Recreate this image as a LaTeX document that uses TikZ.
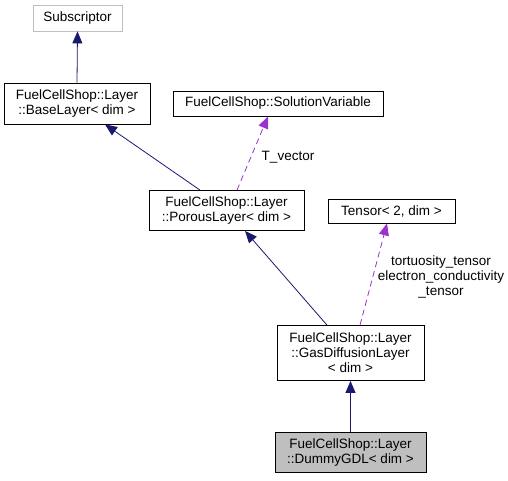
\documentclass[tikz,border=0pt]{standalone}
\usepackage{fontspec}
\setmainfont{Liberation Sans}
\usetikzlibrary{arrows.meta}

\begin{document}
\begin{tikzpicture}[x=1pt,y=-1pt,
	cls/.style={draw,thick,inner sep=0pt,align=center,font=\fontsize{13.5}{15}\selectfont},
	inherit/.style={draw={rgb,255:red,25;green,25;blue,112},thick,-{Triangle[length=12pt,width=10pt]}},
	usage/.style={draw={rgb,255:red,154;green,50;blue,205},thick,dash pattern=on 6pt off 4pt,-{Triangle[length=12pt,width=10pt]}},
	lbl/.style={align=center,font=\fontsize{13.5}{15}\selectfont}]
	\useasboundingbox (0,0) rectangle (508,480);
	\node [cls,draw={rgb,255:red,191;green,191;blue,191},minimum width=89pt,minimum height=26pt] (subscriptor) at (77.5,18) {Subscriptor};
	\node [cls,minimum width=146pt,minimum height=41pt] (baselayer) at (77,103.5) {FuelCellShop::Layer\\::BaseLayer< dim >};
	\node [cls,minimum width=210pt,minimum height=25pt] (solvar) at (278,103.5) {FuelCellShop::SolutionVariable};
	\node [cls,minimum width=155pt,minimum height=40pt] (porous) at (226.5,210.5) {FuelCellShop::Layer\\::PorousLayer< dim >};
	\node [cls,minimum width=127pt,minimum height=24pt] (tensor) at (391.5,211) {Tensor< 2, dim >};
	\node [cls,minimum width=147pt,minimum height=55pt] (gdl) at (350.5,353) {FuelCellShop::Layer\\::GasDiffusionLayer\\< dim >};
	\node [cls,fill={rgb,255:red,191;green,191;blue,191},minimum width=151pt,minimum height=40pt] (dummy) at (350.5,452.5) {FuelCellShop::Layer\\::DummyGDL< dim >};

	\draw [inherit] (baselayer.north) -- (subscriptor.south);
	\draw [inherit] ([xshift=-26.5pt]porous.north) -- ([xshift=28pt]baselayer.south);
	\draw [usage] ([xshift=10.5pt]porous.north) -- ([xshift=-10pt]solvar.south);
	\node [lbl] (tvec) at (288,157) {T\_vector};
	\draw [inherit] ([xshift=-23.5pt]gdl.north) -- ([xshift=18.5pt]porous.south);
	\draw [usage] ([xshift=9.5pt]gdl.north) -- ([xshift=-4.5pt]tensor.south);
	\node [lbl] (tlbl) at (441,277) {tortuosity\_tensor\\electron\_conductivity\\\_tensor};
	\draw [inherit] (dummy.north) -- (gdl.south);
\end{tikzpicture}
\end{document}
